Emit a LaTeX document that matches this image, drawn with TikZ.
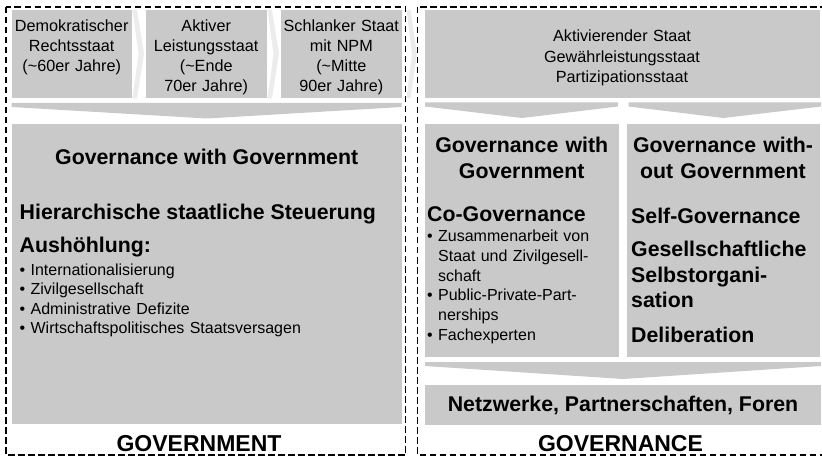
\documentclass[tikz,border=0pt]{standalone}
\usepackage{fontspec}
\setmainfont{Liberation Sans}

\definecolor{tilegray}{RGB}{201,201,201}
\definecolor{fadegray}{RGB}{236,236,236}

\tikzset{
  panel/.style={draw=black, dash pattern=on 6.5pt off 3.5pt, line width=1.4pt},
  tile/.style={fill=tilegray, inner sep=0pt, anchor=north west},
  toptext/.style={font=\fontsize{16.2}{20}\selectfont, align=center, inner sep=0pt, anchor=base},
  head/.style={font=\bfseries\fontsize{21.3}{25.5}\selectfont, inner sep=0pt},
  itemlist/.style={font=\fontsize{16}{19.6}\selectfont, align=left, inner sep=0pt, anchor=base west},
  bigtitle/.style={font=\bfseries\fontsize{23}{27}\selectfont, inner sep=0pt, anchor=base}
}

\begin{document}
\begin{tikzpicture}[x=1pt, y=-1pt]
\useasboundingbox (0,0) rectangle (822,457);

% left panel: government
\node[tile, minimum width=120pt, minimum height=88.3pt] (demo) at (11.7,10) {};
\node[tile, minimum width=121pt, minimum height=88.3pt] (aktiv) at (145.7,10) {};
\node[tile, minimum width=120.7pt, minimum height=88.3pt] (npm) at (281,10) {};
\fill[fadegray] (132.5,10) -- (137,10) -- (144,54) -- (137,98.3) -- (132.5,98.3) -- (138.5,54) -- cycle;
\fill[fadegray] (267.5,10) -- (272,10) -- (279,54) -- (272,98.3) -- (267.5,98.3) -- (273.5,54) -- cycle;
\node[toptext, text width=120pt] (demotext) at (71.7,31.7) {Demokratischer\\Rechtsstaat\\(\textasciitilde60er Jahre)};
\node[toptext, text width=121pt] (aktivtext) at (206.2,31.7) {Aktiver\\Leistungsstaat\\(\textasciitilde Ende\\70er Jahre)};
\node[toptext, text width=120.7pt] (npmtext) at (341.3,31.7) {Schlanker Staat\\mit NPM\\(\textasciitilde Mitte\\90er Jahre)};

\fill[tilegray] (11.7,103) -- (401.7,103) -- (401.7,107) -- (206.7,118.5) -- (11.7,107) -- cycle;

\node[tile, minimum width=390pt, minimum height=300.5pt] (gov) at (11.7,123.5) {};
\node[head, anchor=base] (gwg) at (206.7,165) {Governance with Government};
\node[head, anchor=base west] (hier) at (19.5,220) {Hierarchische staatliche Steuerung};
\node[head, anchor=base west] (aush) at (19.5,253) {Aushöhlung:};
\node[itemlist, text width=380pt] (aushlist) at (19.5,275) {• Internationalisierung\\• Zivilgesellschaft\\• Administrative Defizite\\• Wirtschaftspolitisches Staatsversagen};

\node[bigtitle] (government) at (199,451.5) {GOVERNMENT};

% right panel: governance
\fill[fadegray] (406.5,10) -- (410.5,10) -- (417,54) -- (410.5,98.3) -- (406.5,98.3) -- (412,54) -- cycle;
\node[tile, minimum width=394.3pt, minimum height=88.3pt] (aktivier) at (425,10) {};
\node[toptext, text width=380pt, font=\fontsize{16.2}{20.5}\selectfont] (aktiviertext) at (622,42) {Aktivierender Staat\\Gewährleistungsstaat\\Partizipationsstaat};

\fill[tilegray] (425,102.5) -- (618,102.5) -- (618,106.5) -- (522,118) -- (425,106.5) -- cycle;
\fill[tilegray] (628.5,102.5) -- (821,102.5) -- (821,106.5) -- (723.5,118) -- (628.5,106.5) -- cycle;

\node[tile, minimum width=193.5pt, minimum height=233.3pt] (cogov) at (425,123.5) {};
\node[tile, minimum width=192.3pt, minimum height=233.3pt] (selfgov) at (627,123.5) {};

\node[head, align=center, text width=190pt, anchor=base] (cohead) at (521.7,152.7) {Governance with\\Government};
\node[head, anchor=base west] (co) at (427,221.7) {Co-Governance};
\node[itemlist, text width=190pt, font=\fontsize{16}{19.7}\selectfont] (colist) at (427,241.7) {• Zusammenarbeit von\\\hphantom{• }Staat und Zivilgesell-\\\hphantom{• }schaft\\• Public-Private-Part-\\\hphantom{• }nerships\\• Fachexperten};

\node[head, align=center, text width=190pt, anchor=base] (selfhead) at (723,152.7) {Governance with-\\out Government};
\node[head, align=left, text width=188pt, anchor=base west] (selflist) at (631,224) {Self-Governance\\[7.5pt]Gesellschaftliche\\Selbstorgani-\\sation\\[9pt]Deliberation};

\fill[tilegray] (425,362) -- (821,362) -- (821,366) -- (623,379) -- (425,366) -- cycle;
\node[tile, minimum width=396pt, minimum height=40pt] (netz) at (425,384.5) {};
\node[head, anchor=base] (netztext) at (623,411.7) {Netzwerke, Partnerschaften, Foren};

\node[bigtitle] (governance) at (620.5,451.5) {GOVERNANCE};

% dashed frames
\draw[panel] (6,7) rectangle (405.5,455);
\draw[panel] (417.5,7) rectangle (824,455);
\end{tikzpicture}
\end{document}
